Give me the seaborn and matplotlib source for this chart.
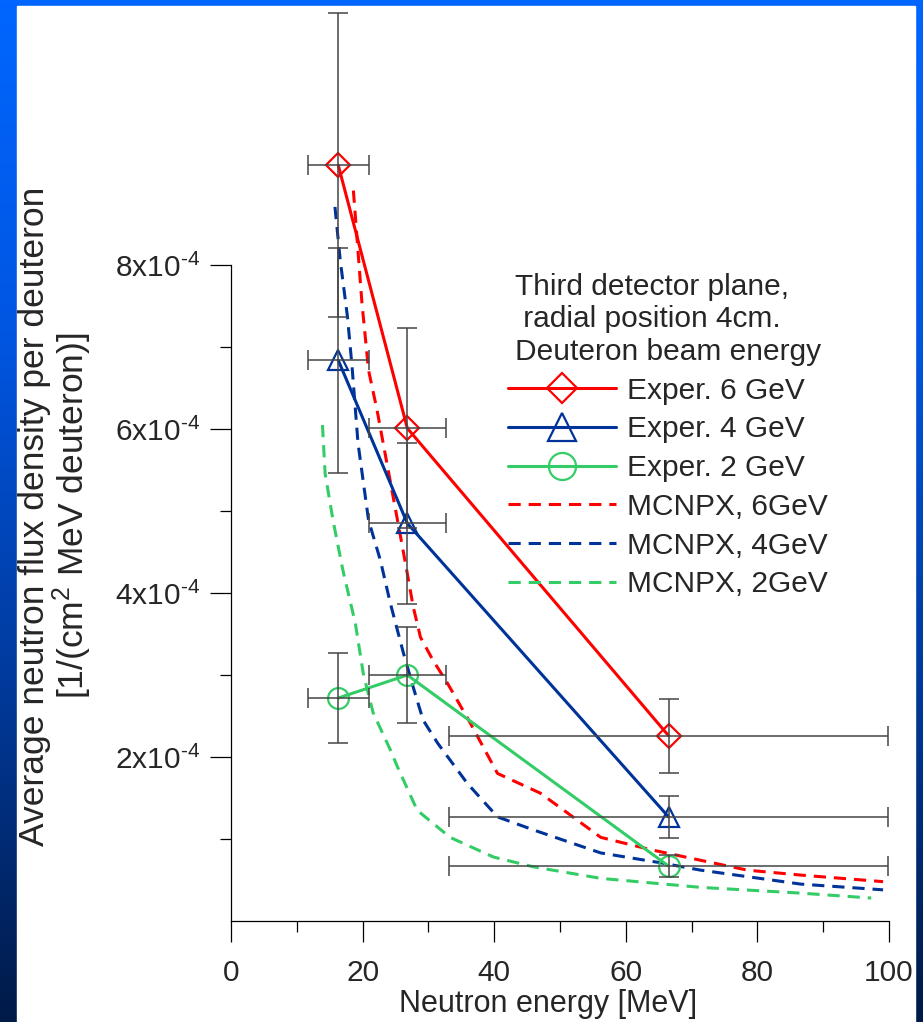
import numpy as np
import pandas as pd
import matplotlib
matplotlib.use('Agg')
import matplotlib.pyplot as plt
from matplotlib.patches import Rectangle
from matplotlib.colors import LinearSegmentedColormap
import seaborn as sns

# flux values are in units of 1e-4 [1/(cm2 MeV deuteron)]
SCALE = 1e-4

# experimental points
exp_energy = [16.3, 26.8, 66.5]
exp_energy_err = [4.65, 5.9, 33.3]
exp_6gev = [9.22, 6.01, 2.26]
exp_6gev_err = [1.85, 1.22, 0.45]
exp_4gev = [6.84, 4.85, 1.27]
exp_4gev_err = [1.37, 0.98, 0.26]
exp_2gev = [2.72, 3.00, 0.67]
exp_2gev_err = [0.55, 0.59, 0.135]

# MCNPX simulations
mc6_energy = [18.6, 19.9, 20.9, 22.2, 23.4, 25.3, 26.5, 27.7, 28.8, 30.7, 32.9,
              36.4, 40.5, 47.0, 51.1, 56.2, 63.8, 71.4, 78.5, 86.6, 99.1]
mc6_flux = [8.91, 7.54, 6.72, 6.23, 5.71, 4.89, 4.37, 3.83, 3.46, 3.18, 2.90,
            2.41, 1.80, 1.56, 1.32, 1.02, 0.87, 0.74, 0.62, 0.56, 0.48]
mc4_energy = [15.8, 16.6, 17.7, 18.4, 19.3, 20.9, 22.7, 24.2, 26.2, 27.7, 29.2,
              31.4, 35.9, 40.5, 46.0, 56.2, 65.3, 71.4, 86.6, 99.1]
mc4_flux = [8.71, 8.06, 7.37, 6.76, 5.83, 4.89, 4.40, 3.88, 3.27, 2.85, 2.45,
            2.17, 1.68, 1.27, 1.11, 0.83, 0.71, 0.62, 0.45, 0.38]
mc2_energy = [13.9, 14.3, 15.5, 17.0, 18.9, 20.1, 21.6, 24.2, 25.3, 28.3, 33.3,
              39.9, 46.0, 56.2, 71.4, 86.6, 97.3]
mc2_flux = [6.05, 5.46, 4.89, 4.28, 3.63, 3.02, 2.54, 2.09, 1.88, 1.35, 1.02,
            0.78, 0.66, 0.52, 0.41, 0.34, 0.28]

RED = '#ff0000'
BLUE = '#003399'
GREEN = '#33cc66'
FS = 21.5

sns.set_style('ticks')
plt.rcParams['font.family'] = ['Liberation Sans', 'DejaVu Sans']
plt.rcParams['mathtext.fontset'] = 'custom'
plt.rcParams['mathtext.rm'] = 'Liberation Sans'
plt.rcParams['mathtext.it'] = 'Liberation Sans:italic'

W, H = 923, 1022
fig = plt.figure(figsize=(W / 100, H / 100), dpi=100)

# slide background: blue gradient frame around a white panel
bg = fig.add_axes([0, 0, 1, 1], zorder=-10)
slide = LinearSegmentedColormap.from_list('slide', ['#0066ff', '#0055e0', '#003a9c', '#001a48'])
bg.imshow(np.linspace(0, 1, 256)[:, None], aspect='auto', cmap=slide,
          extent=[0, 1, 0, 1], origin='upper')
bg.add_patch(Rectangle((17 / W, 0), (915 - 17) / W, (H - 6) / H,
                       color='white', transform=bg.transAxes))
bg.set_xlim(0, 1)
bg.set_ylim(0, 1)
bg.axis('off')

ax = fig.add_axes([231 / W, 101 / H, 658 / W, 910 / H])
ax.patch.set_alpha(0)

exper = [
    ('Exper. 6 GeV', exp_6gev, exp_6gev_err, RED, 'D'),
    ('Exper. 4 GeV', exp_4gev, exp_4gev_err, BLUE, '^'),
    ('Exper. 2 GeV', exp_2gev, exp_2gev_err, GREEN, 'o'),
]
handles = []
for label, flux, err, color, marker in exper:
    df = pd.DataFrame({'energy': exp_energy, 'flux': np.array(flux) * SCALE})
    sns.lineplot(data=df, x='energy', y='flux', ax=ax, color=color, lw=2.2,
                 marker=marker, ms=15 if marker != 'D' else 12,
                 mfc='none', mec=color, mew=1.6, legend=False, zorder=3)
    handles.append(ax.lines[-1])
    ax.errorbar(exp_energy, np.array(flux) * SCALE, xerr=exp_energy_err,
                yerr=np.array(err) * SCALE, fmt='none', ecolor='#454545',
                elinewidth=1.1, capsize=7.5, capthick=1.1, zorder=4, clip_on=False)

mcnpx = [
    ('MCNPX, 6GeV', mc6_energy, mc6_flux, RED),
    ('MCNPX, 4GeV', mc4_energy, mc4_flux, BLUE),
    ('MCNPX, 2GeV', mc2_energy, mc2_flux, GREEN),
]
for label, energy, flux, color in mcnpx:
    df = pd.DataFrame({'energy': energy, 'flux': np.array(flux) * SCALE})
    sns.lineplot(data=df, x='energy', y='flux', ax=ax, color=color, lw=2.2,
                 ls=(0, (4, 2.6)), legend=False, zorder=2)
    handles.append(ax.lines[-1])

labels = [e[0] for e in exper] + [m[0] for m in mcnpx]

ax.set_xlim(0, 100)
ax.set_ylim(0, 11.1e-4)
sns.despine(ax=ax)
ax.spines['left'].set_bounds(0, 8e-4)
ax.spines['bottom'].set_bounds(0, 100)
for s in ('left', 'bottom'):
    ax.spines[s].set_color('black')
    ax.spines[s].set_linewidth(0.9)

ax.set_xticks([0, 20, 40, 60, 80, 100])
ax.set_xticks([10, 30, 50, 70, 90], minor=True)
ax.set_yticks([2e-4, 4e-4, 6e-4, 8e-4])
ax.set_yticklabels([f'{v}x10$^{{\\text{{-4}}}}$' for v in (2, 4, 6, 8)])
ax.set_yticks([1e-4, 3e-4, 5e-4, 7e-4], minor=True)
ax.tick_params(which='major', length=15, width=0.9, color='black', labelsize=FS)
ax.tick_params(which='minor', length=8, width=0.9, color='black')
ax.tick_params(axis='y', which='major', pad=7)
ax.tick_params(axis='x', which='major', pad=12)

ax.set_xlabel('Neutron energy [MeV]', fontsize=22, labelpad=2)
ax.xaxis.set_label_coords(0.482, -0.075)
ax.set_ylabel('Average neutron flux density per deuteron\n[1/(cm$^2$ MeV deuteron)]',
              fontsize=25.5, linespacing=1.0)
ax.yaxis.set_label_coords(-0.208, 0.445)

leg = ax.legend(handles, labels,
                title='Third detector plane,\n radial position 4cm.\nDeuteron beam energy',
                loc='upper left', bbox_to_anchor=(508 / W, (H - 273) / H),
                bbox_transform=fig.transFigure, frameon=False, fontsize=FS,
                title_fontsize=FS, handlelength=3.6, handletextpad=0.4,
                labelspacing=0.36, markerscale=1.3, borderpad=0, borderaxespad=0)
leg.get_title().set_linespacing(1.2)

fig.savefig('out.png', dpi=100)
